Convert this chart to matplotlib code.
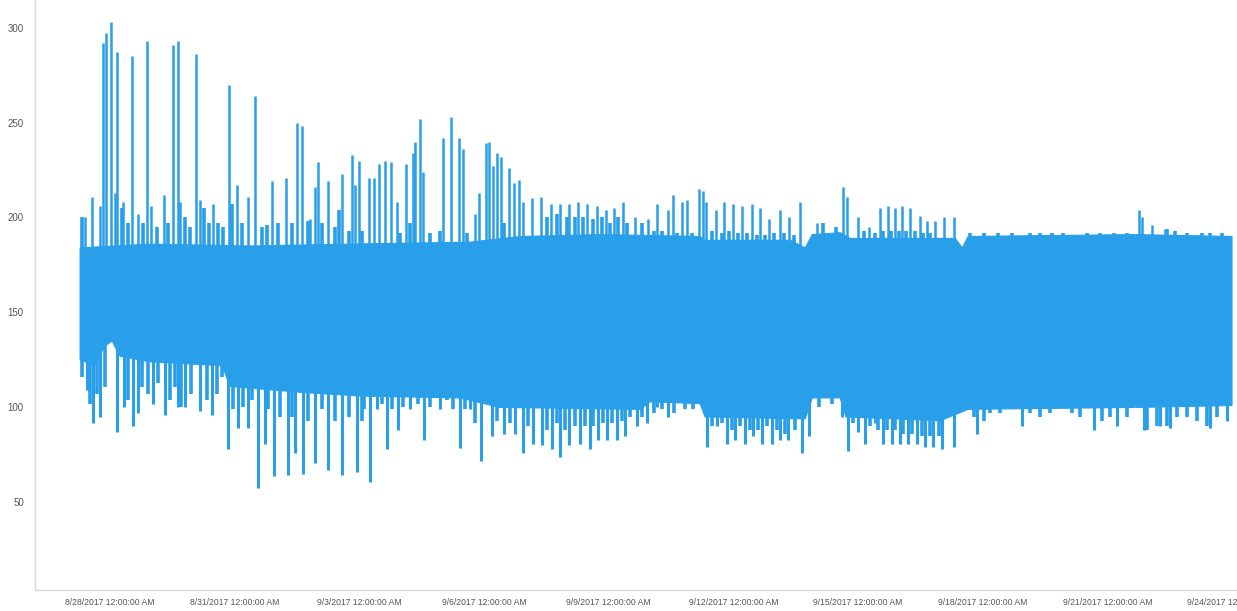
import numpy as np
import matplotlib
matplotlib.use("Agg")
import matplotlib.pyplot as plt

# Times are fractional days counted from 2017-08-28 00:00
START = np.datetime64("2017-08-28T00:00")

# Solid body of the signal: upper and lower envelope
top_days = [-0.72, 0.96, 3.37, 5.78, 8.66, 9.87, 11.79, 14.20, 14.32, 16.37, 16.73,
            16.90, 17.57, 17.81, 20.34, 20.51, 20.65, 24.655, 24.67, 24.685, 27.00]
top_vals = [184, 186, 185, 186, 187, 190, 191, 190, 188, 188, 184,
            191, 192, 189, 189, 184, 190, 191, 171, 191, 190]

bottom_days = [-0.72, -0.36, -0.14, 0.05, 0.24, 0.96, 2.70, 2.89, 4.57, 6.02, 8.42,
               9.39, 12.76, 13.00, 14.20, 14.32, 16.73, 16.90, 17.57, 17.71, 19.98,
               20.65, 24.655, 24.67, 24.685, 27.00]
bottom_vals = [125, 122, 132, 135, 127, 124, 122, 111, 108, 106, 105,
               100, 99, 103, 102, 95, 94, 105, 105, 95, 93,
               99, 100, 120, 100, 101]

# Upward excursions
peak_days = [-0.60, -0.43, -0.24, -0.18, -0.10, 0.02, 0.12, 0.18, 0.32, 0.52, 0.68,
             0.89, 0.99, 1.30, 1.51, 1.64, 1.68, 2.07, 2.17, 2.47, 2.86, 3.05, 3.31,
             3.49, 3.89, 4.23, 4.51, 4.61, 4.81, 4.93, 5.01, 5.25, 5.58, 5.82, 5.90,
             5.99, 6.24, 6.35, 6.48, 6.62, 6.76, 6.90, 7.12, 7.30, 7.34, 7.46, 7.54,
             8.02, 8.20, 8.41, 8.49, 8.78, 8.89, 9.05, 9.13, 9.22, 9.31, 9.40, 9.60,
             9.73, 9.83, 9.95, 10.15, 10.37, 10.61, 10.83, 11.05, 11.27, 11.49, 11.71,
             11.93, 12.13, 12.35, 12.64, 12.94, 13.16, 13.42, 13.54, 13.76, 13.88,
             14.18, 14.26, 14.34, 14.58, 14.78, 15.00, 15.22, 15.44, 15.65, 15.86,
             16.13, 16.35, 16.61, 17.01, 17.65, 17.73, 18.01, 18.27, 18.53, 18.72,
             18.89, 19.07, 19.25, 19.49, 19.66, 19.86, 20.06, 20.30, 24.75, 24.83,
             25.07, 25.39]
peak_vals = [200, 211, 206, 292, 297, 303, 213, 287, 208, 285, 202,
             293, 206, 212, 291, 293, 208, 286, 209, 207, 270, 217, 211,
             264, 219, 221, 250, 248, 199, 216, 229, 219, 223, 233, 217,
             230, 221, 221, 228, 230, 229, 208, 228, 234, 240, 252, 224,
             242, 253, 242, 236, 202, 213, 239, 240, 227, 234, 232, 226,
             218, 220, 208, 210, 211, 207, 207, 207, 208, 207, 206,
             204, 205, 208, 200, 199, 207, 204, 212, 208, 209,
             215, 214, 208, 204, 208, 207, 206, 207, 205, 199,
             204, 200, 208, 197, 216, 211, 200, 195, 205, 206,
             205, 206, 205, 201, 198, 198, 200, 200, 204, 200,
             196, 194]

# Downward excursions
dip_days = [-0.56, -0.40, -0.24, 0.18, 0.34, 0.56, 0.68, 1.04, 1.32, 1.64, 1.81,
            2.17, 2.45, 2.85, 3.09, 3.33, 3.55, 3.73, 3.95, 4.28, 4.45, 4.65, 4.93,
            5.25, 5.58, 5.94, 6.26, 6.42, 6.66, 6.94, 7.22, 7.56, 7.94, 8.42, 8.66,
            8.93, 9.19, 9.47, 9.75, 9.95, 10.19, 10.39, 10.63, 10.83, 11.05, 11.31,
            11.54, 11.75, 11.95, 12.19, 12.39, 12.68, 12.92, 13.16, 13.42, 14.36,
            14.60, 14.84, 15.04, 15.28, 15.48, 15.68, 15.93, 16.13, 16.32, 16.65,
            16.81, 17.61, 17.77, 18.01, 18.17, 18.41, 18.61, 18.81, 19.01, 19.21,
            19.41, 19.61, 19.81, 20.02, 20.30, 20.86, 21.94, 23.67, 24.23, 24.87,
            25.27, 25.51, 26.47, 26.88]
dip_vals = [109, 92, 95, 87, 100, 90, 97, 102, 96, 100, 100,
            98, 96, 78, 89, 89, 57.5, 81, 64, 64.5, 76, 65, 71,
            67, 64.5, 66, 61, 99, 78, 88, 99, 83, 99, 78.5, 99,
            72, 85, 86, 86, 76, 81, 80, 78, 74, 80, 81,
            78, 83, 83, 83, 85, 90, 92, 100, 95, 79,
            90, 81, 83, 81, 85, 81, 81, 83, 83, 76,
            85, 95, 77, 87, 81, 92, 81, 81, 81, 81,
            81, 79, 79, 78, 79, 86, 90, 88, 90, 88,
            90, 89, 89, 93]

# Short ripples along the upper edge of the body
ripple_up_days = [-0.68, 0.28, 0.44, 0.80, 1.12, 1.40, 1.81, 1.93, 2.25, 2.37, 2.61,
                  2.73, 2.93, 3.17, 3.65, 3.77, 4.05, 4.37, 4.77, 5.09, 5.42, 5.50,
                  5.74, 6.06, 6.98, 7.22, 7.70, 7.94, 8.58, 9.47, 10.51, 10.75, 10.99,
                  11.19, 11.39, 11.63, 11.83, 12.03, 12.23, 12.44, 12.80, 13.08, 13.28,
                  13.64, 14.00, 14.48, 14.72, 14.90, 15.12, 15.32, 15.56, 15.76, 15.98,
                  16.22, 16.46, 17.16, 17.48, 18.15, 18.40, 18.60, 18.80, 18.98, 19.16,
                  19.38, 19.56, 19.74, 20.70, 21.02, 21.38, 21.70, 22.14, 22.38, 22.66,
                  22.94, 23.51, 23.83, 24.15, 24.47, 25.43, 25.63, 25.91, 26.27, 26.48,
                  26.76]
ripple_up_vals = [200, 205, 197, 197, 195, 197, 200, 195, 205, 197, 197,
                  195, 207, 197, 195, 196, 197, 197, 198, 197, 195, 204,
                  193, 193, 192, 197, 192, 193, 192, 197, 200, 202, 200,
                  200, 200, 199, 200, 197, 200, 197, 197, 193, 193,
                  192, 192, 193, 192, 193, 192, 192, 191, 191, 192,
                  192, 191, 197, 195, 193, 192, 193, 193, 193, 193,
                  193, 192, 192, 192, 192, 192, 192, 192, 192, 192,
                  192, 192, 192, 192, 192, 194, 193, 192, 192, 192,
                  192]

# Short fingers along the lower edge of the body
ripple_down_days = [-0.68, -0.48, -0.32, -0.12, 0.44, 0.76, 0.92, 1.16, 1.44, 1.56,
                    1.72, 1.96, 2.33, 2.57, 2.69, 2.97, 3.21, 3.41, 3.81, 4.09, 4.37,
                    4.77, 5.09, 5.42, 5.74, 6.06, 6.10, 6.54, 6.78, 7.06, 7.42, 7.70,
                    8.10, 8.26, 8.54, 8.78, 9.31, 9.63, 10.07, 10.51, 10.75, 10.95,
                    11.19, 11.43, 11.63, 11.87, 12.07, 12.32, 12.52, 12.80, 13.08,
                    13.28, 13.56, 13.84, 14.04, 14.48, 14.72, 14.96, 15.16, 15.40,
                    15.60, 15.81, 16.05, 16.25, 16.49, 17.05, 17.37, 17.89, 18.29,
                    18.49, 18.69, 18.89, 19.09, 19.29, 19.54, 19.74, 19.94, 20.78,
                    21.02, 21.18, 21.42, 21.66, 22.14, 22.38, 22.62, 22.90, 23.15,
                    23.35, 23.87, 24.07, 24.47, 24.95, 25.19, 25.43, 25.67, 25.91,
                    26.15, 26.39, 26.64]
ripple_down_vals = [116, 102, 107, 111, 104, 111, 107, 113, 104, 111,
                    100, 107, 104, 107, 116, 99, 100, 104, 99, 95, 95,
                    93, 99, 93, 95, 93, 99, 102, 99, 100, 102, 100,
                    104, 99, 99, 92, 93, 92, 90, 88, 92, 88,
                    90, 90, 90, 92, 92, 93, 95, 95, 97,
                    99, 97, 99, 99, 90, 92, 88, 90, 88,
                    88, 90, 88, 86, 88, 100, 102, 92, 90,
                    88, 88, 88, 86, 86, 85, 85, 85, 95,
                    93, 97, 97, 99, 97, 95, 97, 100, 97,
                    95, 93, 95, 95, 88, 90, 90, 95, 95,
                    93, 90, 95]

tick_dates = ["2017-08-28", "2017-08-31", "2017-09-03", "2017-09-06", "2017-09-09",
              "2017-09-12", "2017-09-15", "2017-09-18", "2017-09-21", "2017-09-24"]
y_ticks = [50, 100, 150, 200, 250, 300]

COLOR = "#289fe8"


def to_time(days):
    secs = np.round(np.asarray(days, dtype=float) * 86400).astype("int64")
    return START + secs.astype("timedelta64[s]")


fig = plt.figure(figsize=(12.37, 6.11), dpi=100)
ax = fig.add_axes([0.0283, 0.0344, 0.9717, 0.9656])

# body polygon: upper edge left to right, lower edge right to left
top_t = to_time(top_days)
bot_t = to_time(bottom_days)
poly_t = np.concatenate([top_t, bot_t[::-1]])
poly_v = np.concatenate([top_vals, bottom_vals[::-1]])
ax.fill(poly_t, poly_v, color=COLOR, lw=0.8, ec=COLOR)

ax.vlines(to_time(ripple_up_days), 150, ripple_up_vals, color=COLOR, lw=2.6)
ax.vlines(to_time(ripple_down_days), 150, ripple_down_vals, color=COLOR, lw=2.6)
ax.vlines(to_time(peak_days), 150, peak_vals, color=COLOR, lw=1.8)
ax.vlines(to_time(dip_days), 150, dip_vals, color=COLOR, lw=2.2)

x_left = START + np.timedelta64(int(-1.805 * 86400), "s")
x_right = START + np.timedelta64(int(27.12 * 86400), "s")
ax.set_xlim(x_left, x_right)
ax.set_ylim(3.9, 314.5)

ticks = np.array(tick_dates, dtype="datetime64[D]")
ax.set_xticks(ticks)
labels = []
for d in tick_dates:
    y, m, dd = d.split("-")
    labels.append(f"{int(m)}/{int(dd)}/{y} 12:00:00 AM")
ax.set_xticklabels(labels, fontsize=6.2, color="#555555", family="Liberation Sans")
ax.set_yticks(y_ticks)
ax.set_yticklabels([str(v) for v in y_ticks], fontsize=7, color="#555555",
                   family="Liberation Sans")
ax.tick_params(length=0)
ax.tick_params(axis="y", pad=8)
ax.tick_params(axis="x", pad=6)

for s in ("top", "right"):
    ax.spines[s].set_visible(False)
for s in ("left", "bottom"):
    ax.spines[s].set_color("#d9d9d9")
    ax.spines[s].set_linewidth(1.0)

fig.savefig("out.png", dpi=100)
